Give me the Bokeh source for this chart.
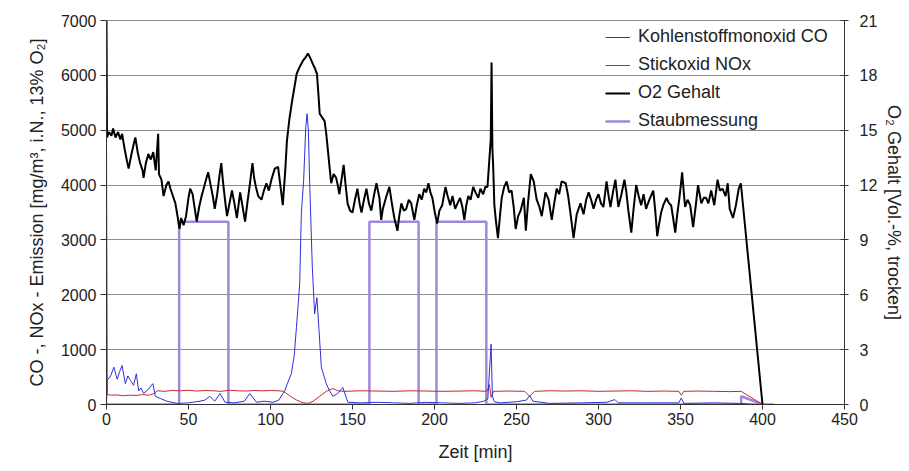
from bokeh.plotting import figure
from bokeh.models import Range1d, LinearAxis, FixedTicker, Legend, LegendItem
from bokeh.embed import file_html
from bokeh.resources import INLINE

# ---------------- data ----------------
o2_t = [0, 0.3, 1.5, 3, 4, 5.5, 7, 8.5, 9.5, 11, 12.5, 13.5, 15, 16.5, 17.6, 19, 20.5, 22, 22.6, 24,
        25.5, 27, 28.5, 30, 31.5, 32, 33.5, 34.8, 36.5, 37.8, 39, 40.5, 42, 43.5, 44.5, 45.5, 47, 48.5, 50, 51,
        52.5, 54, 55, 56.5, 58, 59.5, 61, 62, 63.5, 65, 66, 67.5, 69, 70, 71, 72.5, 73.5, 75, 76.5, 78,
        79.5, 80.5, 81.5, 83, 84.5, 86, 87.5, 89, 90, 91.1, 92.5, 94.5, 96, 97.5, 99, 100.6, 102.6, 104.6, 106, 107.5,
        109, 110, 111.5, 113, 114.5, 116, 118, 119.8, 121.5, 122.8, 124.5, 125.9, 127, 128.3, 129.2, 130, 131.5, 133, 134, 135,
        136, 137, 138.5, 140, 141, 142, 143.3, 144.6, 145.8, 147, 148.5, 150, 151.5, 153, 154.3, 155.5, 157, 158.5, 160, 161.5,
        163, 164.6, 166.4, 167.5, 168.5, 170.7, 172.5, 174, 175.5, 177.4, 178.5, 179.8, 181.3, 182.8, 184.3, 185.8, 187.7, 189.2, 190.7, 192.2,
        193.7, 195, 196.3, 197.5, 198.7, 200.2, 201.6, 203, 204.7, 206.7, 208, 209.6, 211, 212.6, 214, 215.6, 217, 218.2, 219.4, 220.6,
        222, 223.6, 225, 226.7, 228, 229.7, 231, 232.3, 233.3, 234.3, 234.8, 235.3, 235.8, 236.5, 237.5, 238.7, 240, 241, 242.5, 244,
        245.5, 247, 248.3, 249.5, 251, 252.5, 254.5, 255.7, 257, 258.7, 260.5, 262.3, 264, 265.4, 267.7, 269.6, 271.5, 273, 274.5, 276,
        277.5, 280, 281.5, 283, 284.8, 286.7, 289, 290.9, 292.5, 294, 295.5, 297, 298.5, 300, 301.5, 303, 304.9, 306, 307.3, 308.8,
        310.3, 312.1, 314, 315.8, 317, 318.2, 320, 321.5, 323, 324.5, 326, 327.5, 329, 331, 333.4, 334.6, 335.8, 337, 338.2, 339.5,
        341.5, 343, 344.3, 345.5, 346.8, 348, 349.2, 350.2, 351, 352, 352.8, 354.3, 355.9, 357.7, 359.2, 360.7, 362.7, 364.2, 365.6, 367,
        368.7, 370.6, 372.6, 374, 375.6, 377.5, 378.8, 380, 382, 383.8, 385.5, 386.8, 400]
o2_v = [21.0, 14.6, 14.9, 14.7, 15.1, 14.6, 14.9, 14.5, 14.8, 14.0, 13.3, 12.9, 13.6, 14.2, 14.6, 13.8, 13.2, 12.8, 12.4, 13.2,
        13.7, 13.4, 13.8, 12.8, 14.8, 12.6, 12.3, 11.4, 12.0, 12.2, 11.8, 11.4, 11.0, 10.2, 9.6, 10.2, 9.8, 10.3, 11.3, 11.8,
        11.5, 10.6, 10.0, 10.8, 11.4, 11.9, 12.4, 12.7, 12.0, 11.3, 10.7, 11.5, 12.6, 13.2, 12.2, 11.0, 10.3, 11.0, 11.7, 11.0,
        10.2, 10.9, 11.6, 10.8, 10.0, 11.1, 12.1, 13.2, 12.4, 11.9, 11.4, 11.2, 11.7, 12.1, 11.7, 12.3, 12.9, 13.0, 12.0, 10.9,
        12.8, 14.4, 15.6, 16.5, 17.3, 18.1, 18.5, 18.8, 19.0, 19.2, 18.9, 18.6, 18.4, 18.1, 17.0, 15.9, 15.7, 15.5, 14.8, 13.9,
        13.0, 12.1, 12.6, 12.4, 12.0, 11.5, 12.3, 13.1, 12.0, 11.0, 10.6, 10.5, 11.2, 11.8, 11.0, 10.5, 11.2, 11.8, 11.0, 10.6,
        11.4, 12.1, 11.3, 10.1, 10.7, 11.4, 11.9, 11.0, 10.2, 9.5, 10.3, 11.0, 10.6, 10.7, 11.2, 11.0, 10.1, 10.9, 11.5, 11.2,
        11.8, 11.6, 12.1, 11.6, 11.3, 10.5, 9.9, 10.6, 10.9, 11.9, 11.4, 10.9, 11.4, 10.7, 11.0, 11.3, 10.8, 10.1, 10.9, 11.4,
        11.2, 11.9, 11.6, 11.3, 11.8, 11.5, 11.9, 11.9, 13.2, 14.5, 18.7, 14.0, 13.0, 10.9, 10.0, 9.1, 10.4, 11.3, 11.9, 12.2,
        11.6, 11.7, 10.8, 9.6, 10.3, 10.6, 11.3, 9.5, 11.0, 12.6, 12.2, 11.2, 10.8, 10.3, 11.6, 11.2, 10.1, 11.0, 11.8, 11.5,
        12.2, 12.1, 11.4, 10.4, 9.1, 10.4, 11.0, 10.4, 11.2, 11.6, 11.2, 10.7, 11.2, 11.5, 11.0, 10.8, 12.2, 11.5, 10.8, 11.6,
        12.3, 10.8, 11.5, 12.3, 11.6, 10.6, 9.4, 10.8, 12.0, 11.4, 10.9, 11.5, 10.7, 11.2, 11.7, 10.6, 9.2, 9.9, 10.5, 10.9,
        11.3, 11.0, 10.9, 10.2, 9.4, 10.4, 11.2, 12.0, 12.7, 11.6, 10.8, 11.2, 10.9, 9.7, 10.8, 12.0, 11.0, 11.3, 11.3, 11.0,
        11.7, 10.9, 12.3, 11.7, 11.8, 11.4, 12.1, 10.7, 10.2, 10.9, 11.8, 12.1, 0.0]

co_t = [0, 0.4, 2.5, 4.5, 6.5, 8, 9.5, 11.5, 13, 14.6, 16.5, 18.2, 19.6, 21, 22.7, 25, 28.3, 29.8, 32.8, 36.8,
        42.9, 50, 57, 60, 63, 66, 69.2, 72.3, 78, 84, 87.4, 91.5, 96, 101.6, 105, 108.7, 110.5, 112.7, 114.5, 115.8,
        117.8, 118.8, 120.2, 121.5, 122.3, 123.1, 123.9, 125.5, 126.9, 128.3, 129.6, 131, 134, 136, 138, 141, 144.1, 147.2, 155, 165,
        175, 185, 195, 205, 215, 225, 230, 232.5, 234.5, 235.3, 236.5, 240, 250, 256, 258, 260, 270, 290, 305, 310,
        312, 330, 349, 350.5, 352, 370, 386, 400]
co_v = [0, 440, 520, 680, 460, 600, 710, 380, 520, 440, 350, 560, 250, 300, 200, 260, 380, 150, 110, 60,
        20, 30, 60, 80, 150, 60, 200, 40, 30, 60, 200, 40, 60, 40, 80, 250, 400, 560, 900, 1400,
        2200, 3480, 4080, 5050, 5300, 5000, 4030, 2500, 1650, 1950, 1350, 680, 380, 250, 150, 200, 310, 40, 30, 40,
        30, 20, 40, 30, 20, 30, 60, 100, 1100, 150, 50, 30, 50, 80, 160, 60, 20, 30, 40, 90,
        30, 30, 30, 120, 20, 30, 20, 0]

nox_t = [0, 0.5, 3, 6, 10, 14, 18, 22, 26, 29, 31, 35, 40, 45, 50, 55, 60, 65, 70, 75,
         80, 85, 90, 95, 100, 105, 108, 112, 116, 120, 123, 126, 130, 134, 138, 141, 145, 155, 165, 175,
         185, 195, 205, 215, 225, 232, 233.5, 234.5, 236, 245, 255, 258, 261, 270, 280, 290, 300, 310, 320, 330,
         340, 349, 350.5, 352, 360, 370, 380, 387, 400]
nox_v = [4800, 180, 170, 175, 160, 170, 165, 180, 170, 200, 250, 240, 255, 250, 260, 245, 255, 250, 240, 260,
         250, 245, 255, 250, 255, 250, 240, 150, 80, 30, 20, 60, 150, 240, 290, 250, 240, 250, 245, 240,
         250, 245, 240, 245, 250, 240, 360, 130, 240, 245, 240, 150, 240, 250, 245, 250, 240, 245, 250, 240,
         245, 240, 170, 240, 245, 240, 235, 240, 0]

staub_t = [0, 44.3, 44.3, 74.3, 74.3, 160.3, 160.3, 190.3, 190.3, 201.2, 201.2, 231.6, 231.6, 387, 387, 400, 407]
staub_v = [0, 0, 3330, 3330, 0, 0, 3330, 3330, 0, 0, 3330, 3330, 0, 0, 150, 0, 0]

x_ticks = [0, 50, 100, 150, 200, 250, 300, 350, 400, 450]
y_ticks = [0, 1000, 2000, 3000, 4000, 5000, 6000, 7000]
o2_ticks = [0, 3, 6, 9, 12, 15, 18, 21]

FONT = "Liberation Sans"
TXT = "#222222"

p = figure(width=907, height=469, output_backend="svg", toolbar_location=None,
           x_range=Range1d(0, 450), y_range=Range1d(0, 7000),
           min_border_left=106, min_border_right=60, min_border_top=20, min_border_bottom=65)
p.extra_y_ranges = {"o2": Range1d(0, 21)}
p.background_fill_color = "white"
p.border_fill_color = "white"
p.outline_line_color = "#888888"

p.xgrid.visible = False
p.ygrid.grid_line_color = "#8c8c8c"
p.ygrid.grid_line_width = 1

# axes
xa = p.xaxis[0]
xa.ticker = FixedTicker(ticks=x_ticks)
xa.axis_label = "Zeit [min]"
ya = p.yaxis[0]
ya.ticker = FixedTicker(ticks=y_ticks)
ya.axis_label = "CO -, NOx - Emission [mg/m³, i.N., 13% O₂]"

ra = LinearAxis(y_range_name="o2", ticker=FixedTicker(ticks=o2_ticks),
                axis_label="O₂ Gehalt [Vol.-%, trocken]")
p.add_layout(ra, "right")

for ax in (xa, ya, ra):
    ax.axis_line_color = "#333333"
    ax.major_tick_line_color = "#333333"
    ax.minor_tick_line_color = None
    ax.major_label_text_font = FONT
    ax.major_label_text_font_size = "16px"
    ax.major_label_text_color = TXT
    ax.axis_label_text_font = FONT
    ax.axis_label_text_font_size = "18px"
    ax.axis_label_text_font_style = "normal"
    ax.axis_label_text_color = TXT

xa.major_tick_out = 5
xa.major_tick_in = 0
xa.major_label_standoff = 3
xa.axis_label_standoff = 14
ya.major_tick_out = 6
ya.major_tick_in = 0
ya.major_label_standoff = 4
ya.axis_label_standoff = 11
ra.major_tick_out = 4
ra.major_tick_in = 4
ra.major_label_standoff = 11
ra.axis_label_standoff = 4

# glyphs
r_staub = p.line(staub_t, staub_v, line_color="#a088d8", line_width=2.5)
r_nox = p.line(nox_t, nox_v, line_color="#c62828", line_width=1)
r_co = p.line(co_t, co_v, line_color="#2f2fd8", line_width=1)
r_o2 = p.line(o2_t, o2_v, y_range_name="o2", line_color="#000000", line_width=2)

legend = Legend(items=[
    LegendItem(label="Kohlenstoffmonoxid CO", renderers=[r_co]),
    LegendItem(label="Stickoxid NOx", renderers=[r_nox]),
    LegendItem(label="O2 Gehalt", renderers=[r_o2]),
    LegendItem(label="Staubmessung", renderers=[r_staub]),
], location="top_right")
legend.margin = 2
legend.padding = 4
legend.spacing = 7
legend.glyph_width = 25
legend.glyph_height = 20
legend.label_height = 20
legend.label_width = 200
legend.label_standoff = 8
legend.label_text_font = FONT
legend.label_text_font_size = "18px"
legend.label_text_color = TXT
legend.background_fill_alpha = 0
legend.border_line_alpha = 0
p.add_layout(legend)

open("out.html", "w").write(file_html(p, INLINE))
